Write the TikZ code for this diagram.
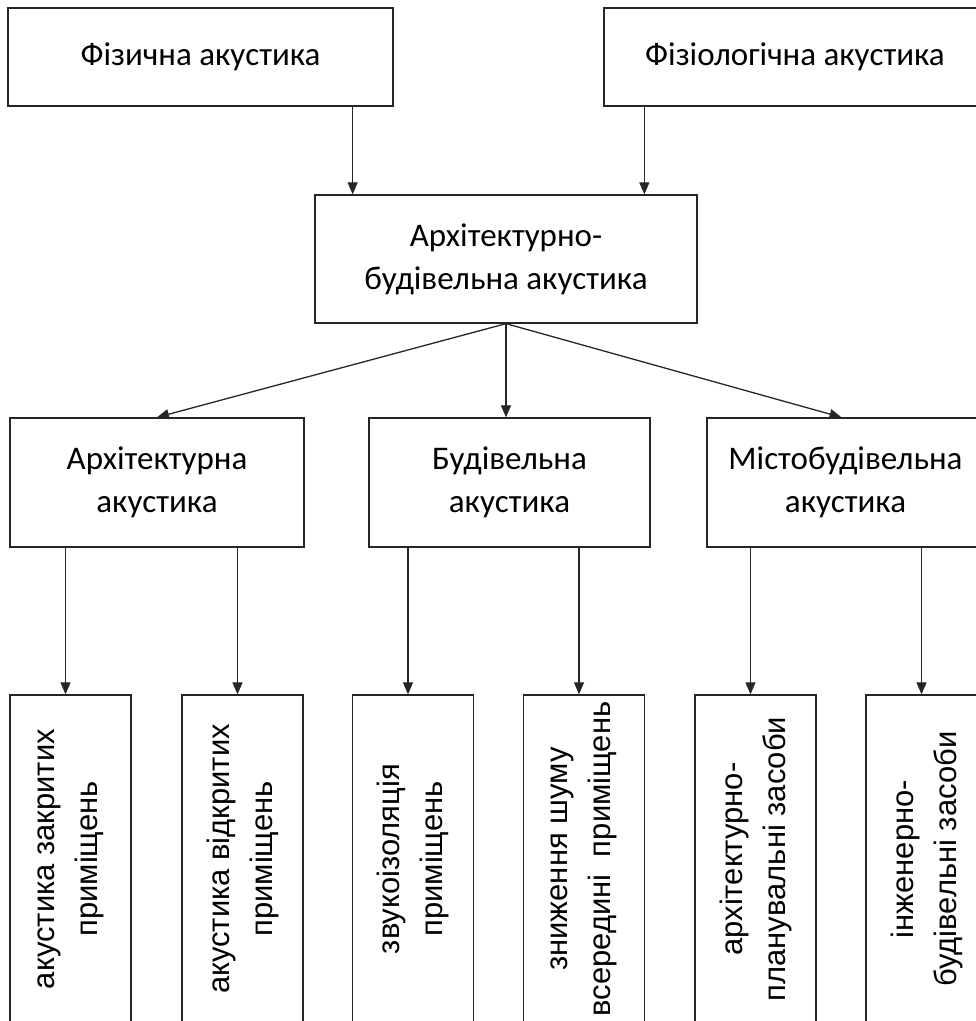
\documentclass[tikz,border=0pt]{standalone}
\usepackage{fontspec}
\setmainfont{Carlito}
\newfontfamily\leaffont{Liberation Sans}
\usetikzlibrary{arrows.meta, positioning}

\begin{document}
\begin{tikzpicture}[x=1pt,y=1pt,>={Triangle[length=12pt,width=10pt]},
      every node/.style={draw=black!85,line width=1.3pt,align=center,inner sep=0pt},
      box/.style={font=\fontsize{33}{43}\selectfont},
      leaf/.style={rotate=90,minimum width=328pt,minimum height=121pt,
        font=\leaffont\fontsize{31}{43}\selectfont},
      link/.style={->,draw=black!85,line width=1.3pt}]
  \useasboundingbox (0,0) rectangle (976,1021);
  \clip (0,0) rectangle (976,1021);
  % top level
  \node[box,minimum width=385pt,minimum height=98pt] (fiz) at (200.5,964) {Фізична акустика};
  \node[box,minimum width=382pt,minimum height=98pt] (fiziol) at (795,964) {Фізіологічна акустика};
  \node[box,minimum width=382pt,minimum height=128pt] (ab) at (506,762) {Архітектурно-\\будівельна акустика};
  % second level
  \node[box,minimum width=294pt,minimum height=129pt] (arch) at (157,538.5) {Архітектурна\\акустика};
  \node[box,minimum width=281pt,minimum height=129pt] (bud) at (509.5,538.5) {Будівельна\\акустика};
  \node[box,minimum width=277pt,minimum height=129pt] (mist) at (845.5,538.5) {Містобудівельна\\акустика};
  % leaves
  \node[leaf] (b1) at (70.5,162) {акустика закритих\\приміщень};
  \node[leaf] (b2) at (242.5,162) {акустика відкритих\\приміщень};
  \node[leaf] (b3) at (413,162) {звукоізоляція\\приміщень};
  \node[leaf] (b4) at (584,162) {зниження шуму\\всередині\ \ приміщень};
  \node[leaf] (b5) at (755.5,162) {архітектурно-\\планувальні засоби};
  \node[leaf] (b6) at (926.5,162) {інженерно-\\будівельні засоби};

  \draw[link] ([xshift=-41pt]fiz.south east) -- ([xshift=-41pt]fiz.south east |- ab.north);
  \draw[link] ([xshift=41pt]fiziol.south west) -- ([xshift=41pt]fiziol.south west |- ab.north);
  \draw[link] (ab.south) -- (arch.north);
  \draw[link] (ab.south) -- (ab.south |- bud.north);
  \draw[link] (ab.south) -- ([xshift=-4pt]mist.north);
  \foreach \s/\t in {arch/b1,arch/b2,bud/b3,bud/b4,mist/b5,mist/b6}
    \draw[link] ([xshift=-5pt]\t.east |- \s.south) -- ([xshift=-5pt]\t.east);
\end{tikzpicture}
\end{document}
